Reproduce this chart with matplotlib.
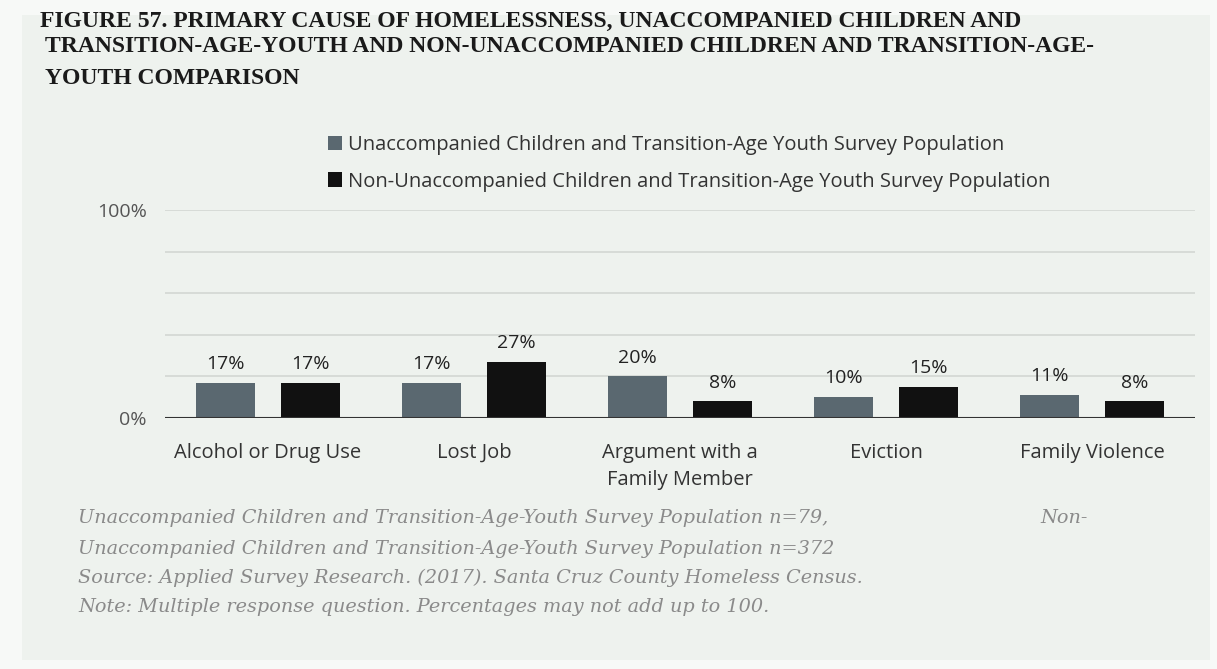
import matplotlib
matplotlib.use("Agg")
import matplotlib.pyplot as plt
from matplotlib.patches import Rectangle
import numpy as np

categories = ["Alcohol or Drug Use", "Lost Job", "Argument with a\nFamily Member", "Eviction", "Family Violence"]
series_names = ["Unaccompanied Children and Transition-Age Youth Survey Population",
                "Non-Unaccompanied Children and Transition-Age Youth Survey Population"]
uc_tay = [17, 17, 20, 10, 11]
non_uc_tay = [17, 27, 8, 15, 8]
ytick_values = [0, 100]
ytick_labels = ["0%", "100%"]
grid_values = [20, 40, 60, 80, 100]

title_lines = ["FIGURE 57. PRIMARY CAUSE OF HOMELESSNESS, UNACCOMPANIED CHILDREN AND",
               "TRANSITION-AGE-YOUTH AND NON-UNACCOMPANIED CHILDREN AND TRANSITION-AGE-",
               "YOUTH COMPARISON"]
foot_lines = ["Unaccompanied Children and Transition-Age-Youth Survey Population n=79,",
              "Unaccompanied Children and Transition-Age-Youth Survey Population n=372",
              "Source: Applied Survey Research. (2017). Santa Cruz County Homeless Census.",
              "Note: Multiple response question. Percentages may not add up to 100."]

W, H = 1217, 669
fig = plt.figure(figsize=(W / 100, H / 100), dpi=100, facecolor="#f7f9f7")

def fx(px):
    return px / W

def fy(py):
    return 1 - py / H

# inner panel
fig.patches.append(Rectangle((fx(22), fy(660)), fx(1210) - fx(22), fy(15) - fy(660),
                             transform=fig.transFigure, facecolor="#eef2ee",
                             edgecolor="none", zorder=-5))

sans = ["Open Sans", "DejaVu Sans"]

ax = fig.add_axes([fx(165), fy(418), fx(1195) - fx(165), fy(210) - fy(418)], zorder=2)
ax.set_facecolor("none")
x = np.arange(len(categories))
bw = 0.29
off = 0.206
b1 = ax.bar(x - off, uc_tay, bw, color="#5a6870", label=series_names[0], zorder=3)
b2 = ax.bar(x + off, non_uc_tay, bw, color="#111111", label=series_names[1], zorder=3)

for rects, vals in ((b1, uc_tay), (b2, non_uc_tay)):
    for r, v in zip(rects, vals):
        ax.annotate(f"{v}%", (r.get_x() + r.get_width() / 2, v), xytext=(0, 7),
                    textcoords="offset points", ha="center", va="bottom",
                    fontsize=14, family=sans, color="#222222")

ax.set_xlim(-0.5, len(categories) - 0.5)
ax.set_ylim(0, 100)
for g in grid_values:
    ax.axhline(g, color="#d3d7d3", lw=1.2, zorder=1)
ax.axhline(0, color="#333333", lw=1.5, zorder=4)
for s in ax.spines.values():
    s.set_visible(False)
ax.set_yticks(ytick_values)
ax.set_yticklabels(ytick_labels, fontsize=14, family=sans, color="#555555")
ax.set_xticks(x)
ax.set_xticklabels(categories, fontsize=14.5, family=sans, color="#333333",
                   linespacing=1.5, va="top")
ax.tick_params(axis="y", length=0, pad=13)
ax.tick_params(axis="x", length=0, pad=18)

leg = fig.legend(handles=[b1, b2], labels=series_names, loc="upper left",
                 bbox_to_anchor=(fx(328), fy(135)), frameon=False,
                 prop={"family": sans, "size": 14.5}, handlelength=0.7,
                 handleheight=0.7, handletextpad=0.3, labelspacing=0.82,
                 borderpad=0, borderaxespad=0)
for t in leg.get_texts():
    t.set_color("#333333")

title_pos = [(40, 21), (45, 47), (45, 78)]
for line, (px, py) in zip(title_lines, title_pos):
    fig.text(fx(px), fy(py), line, ha="left", va="center", fontsize=17,
             family="Liberation Serif", weight="bold", color="#1a1a1a")

foot_pos = [(78, 518), (78, 549), (78, 578), (78, 607)]
for line, (px, py) in zip(foot_lines, foot_pos):
    fig.text(fx(px), fy(py), line, ha="left", va="center", fontsize=13.9,
             family="DejaVu Serif", style="italic", color="#8a8a8a")
fig.text(fx(1040), fy(518), "Non-", ha="left", va="center", fontsize=13.9,
         family="DejaVu Serif", style="italic", color="#8a8a8a")

fig.savefig("out.png", dpi=100, facecolor=fig.get_facecolor())
